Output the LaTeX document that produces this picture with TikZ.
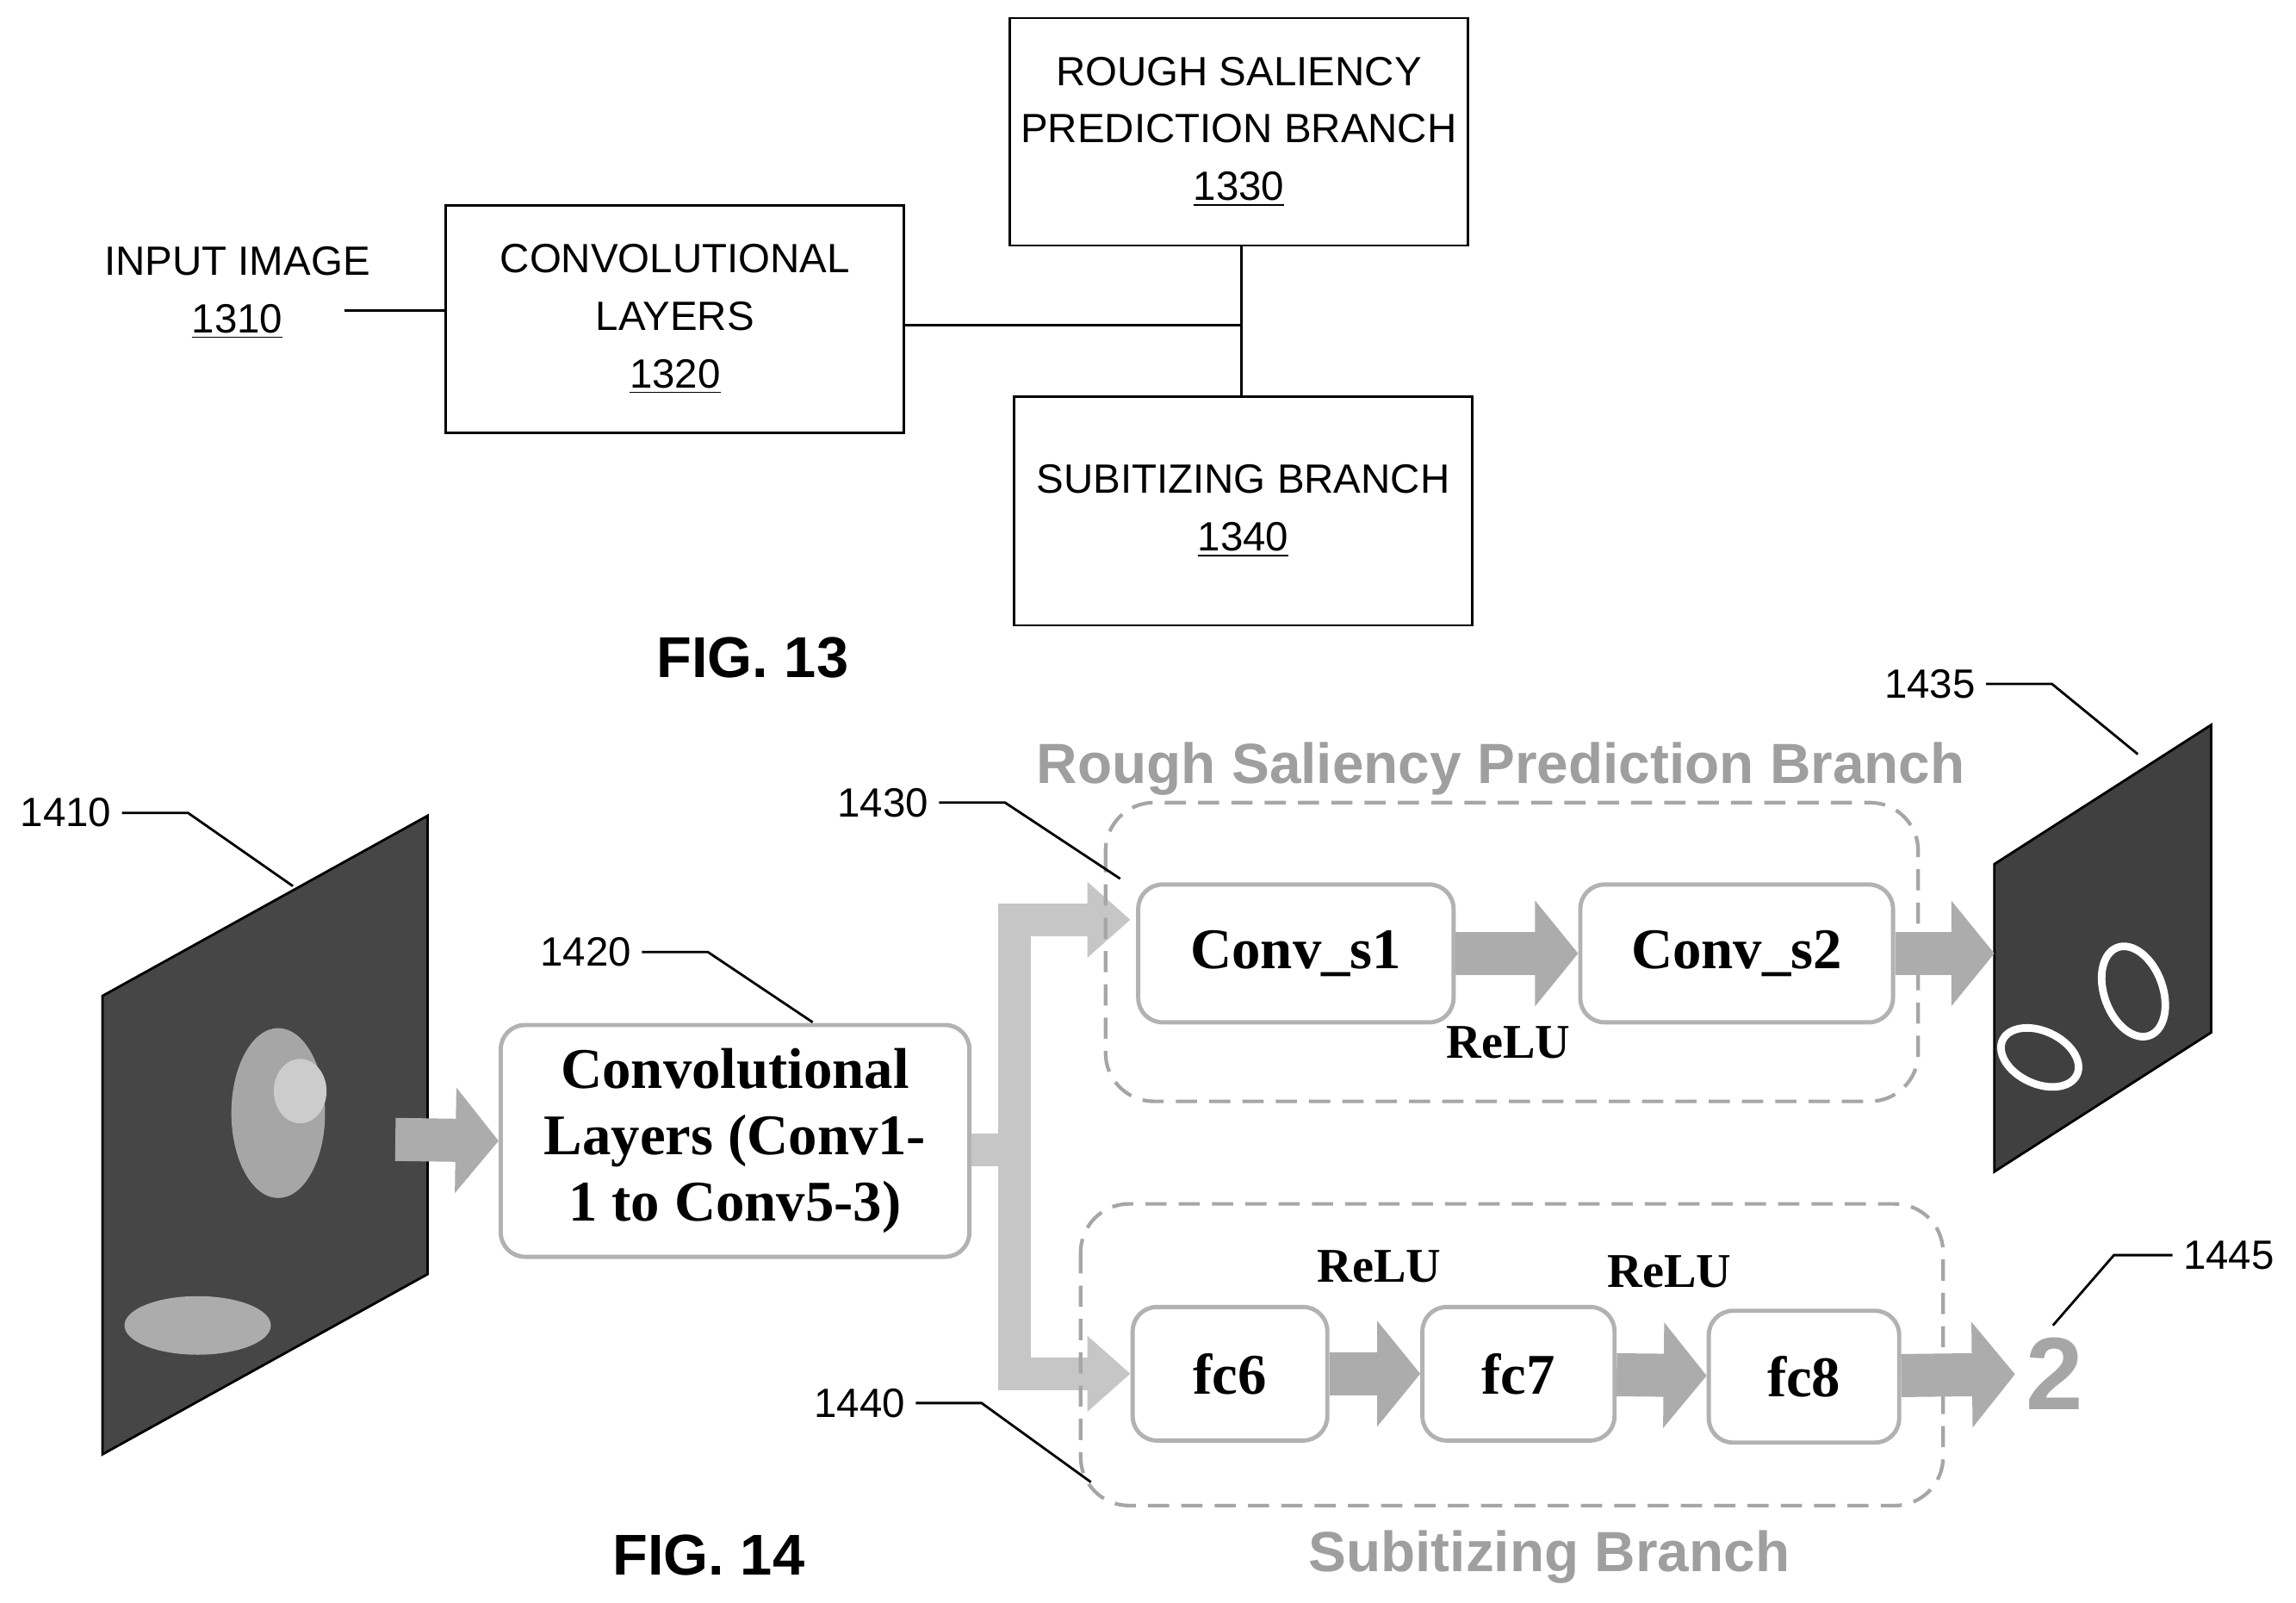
\documentclass[tikz,border=0pt]{standalone}
\usepackage{fontspec}
\setmainfont{Liberation Serif}
\setsansfont{Liberation Sans}
\usetikzlibrary{arrows.meta, positioning}
\tikzset{
    plain/.style={
        rectangle,
        draw=black,
        thick,
        minimum width=5.32cm,
        minimum height=2.64cm,
        align=center,
        font=\sffamily\fontsize{13.5}{19}\selectfont
    },
    stage/.style={
        rectangle,
        draw=gray!60,
        line width=1.4pt,
        rounded corners=8pt,
        fill=white,
        align=center,
        font=\bfseries\fontsize{19}{22}\selectfont
    },
    branch/.style={
        draw=gray!70,
        line width=1.2pt,
        dash pattern=on 7pt off 4pt,
        rounded corners=16pt
    },
    fat/.style={
        line width=0.5cm,
        gray!65,
        -{Triangle[length=0.5cm,width=1.2cm]}
    },
    band/.style={
        line width=0.38cm,
        gray!45
    },
    tag/.style={font=\sffamily\fontsize{13.5}{16}\selectfont},
    lead/.style={thick},
    caption/.style={font=\sffamily\bfseries\fontsize{19}{22}\selectfont},
    title/.style={font=\sffamily\bfseries\fontsize{18.7}{20}\selectfont, text=gray!75}
}
\begin{document}
\begin{tikzpicture}[x=0.017cm, y=-0.017cm]
\useasboundingbox (0,0) rectangle (1568,1094);

% FIG. 13
\node[align=center, font=\sffamily\fontsize{13.5}{19}\selectfont] (img13) at (162,200) {INPUT IMAGE\\\underline{1310}};
\node[plain] (conv13) at (461,218) {CONVOLUTIONAL\\LAYERS\\\underline{1320}};
\node[plain] (rough13) at (846,90) {ROUGH SALIENCY\\PREDICTION BRANCH\\\underline{1330}};
\node[plain, minimum height=2.65cm] (sub13) at (849,349) {SUBITIZING BRANCH\\\underline{1340}};
\coordinate (join) at (848,222);
\draw[thick] (235,212) -- (conv13.west |- 0,212);
\draw[thick] (conv13.east |- join) -- (join);
\draw[thick] (rough13.south -| join) -- (sub13.north -| join);
\node[caption] (fig13) at (514,449) {FIG. 13};

% FIG. 14 -- input image
\fill[gray!55!black] (70,680) -- (292,557) -- (292,870) -- (70,993) -- cycle;
\fill[gray!70] (190,760) ellipse (32 and 58);
\fill[gray!40] (205,745) ellipse (18 and 22);
\fill[gray!65] (135,905) ellipse (50 and 20);
\draw[thick] (70,680) -- (292,557) -- (292,870) -- (70,993) -- cycle;
\coordinate (in) at (270,778);
\node[tag] (t1410) at (45,555) {1410};
\draw[lead] (t1410.east) -- ++(45,0) -- (200,605);

\node[stage, minimum width=5.44cm, minimum height=2.69cm] (conv) at (502,779) {Convolutional\\Layers (Conv1-\\1 to Conv5-3)};
\draw[fat] (in) -- (conv.west);
\node[tag] (t1420) at (400,650) {1420};
\draw[lead] (t1420.east) -- ++(45,0) -- (555,698);

% fork
\coordinate (fork) at (693,785);
\draw[band] (conv.east |- fork) -- (fork);
\draw[band] (693,617) -- (693,949);
\draw[band, -{Triangle[length=0.5cm,width=0.85cm]}] (682,628) -- (772,628);
\draw[band, -{Triangle[length=0.5cm,width=0.85cm]}] (682,938) -- (772,938);

% rough saliency branch
\draw[branch] (755,548) rectangle (1310,752);
\node[title] (ttl1) at (1025,525) {Rough Saliency Prediction Branch};
\node[stage, minimum width=3.66cm, minimum height=1.6cm] (s1) at (885,651) {Conv\_s1};
\node[stage, minimum width=3.63cm, minimum height=1.6cm] (s2) at (1186,651) {Conv\_s2};
\draw[fat] (s1) -- (s2);
\node[font=\bfseries\fontsize{16}{18}\selectfont] (r1) at (1030,712) {ReLU};
\node[tag] (t1430) at (603,548) {1430};
\draw[lead] (t1430.east) -- ++(45,0) -- (765,600);

% saliency map
\fill[gray!50!black] (1362,590) -- (1510,495) -- (1510,705) -- (1362,800) -- cycle;
\draw[white, line width=2.5pt, rotate around={-25:(1393,722)}] (1393,722) ellipse (28 and 18);
\draw[white, line width=2.5pt, rotate around={-70:(1457,677)}] (1457,677) ellipse (32 and 20);
\draw[thick] (1362,590) -- (1510,495) -- (1510,705) -- (1362,800) -- cycle;
\coordinate (sal) at (1362,651);
\draw[fat] (s2) -- (sal);
\node[tag] (t1435) at (1318,467) {1435};
\draw[lead] (t1435.east) -- ++(45,0) -- (1460,515);

% subitizing branch
\draw[branch] (738,822) rectangle (1327,1028);
\node[title] (ttl2) at (1058,1063) {Subitizing Branch};
\node[stage, minimum width=2.26cm, minimum height=1.55cm] (fc6) at (840,938) {fc6};
\node[stage, minimum width=2.23cm, minimum height=1.55cm] (fc7) at (1037,938) {fc7};
\node[stage, minimum width=2.21cm, minimum height=1.53cm] (fc8) at (1232,940) {fc8};
\draw[fat] (fc6) -- (fc7);
\draw[fat] (fc7) -- (fc8);
\node[font=\bfseries\fontsize{16}{18}\selectfont] (r2) at (942,865) {ReLU};
\node[font=\bfseries\fontsize{16}{18}\selectfont] (r3) at (1140,868) {ReLU};
\node[font=\sffamily\fontsize{34}{36}\selectfont, text=gray!70, draw=none] (cnt) at (1403,938) {\textbf{2}};
\draw[fat] (fc8) -- (cnt);
\node[tag] (t1445) at (1522,857) {1445};
\draw[lead] (t1445.west) -- ++(-40,0) -- (1402,905);
\node[tag] (t1440) at (587,958) {1440};
\draw[lead] (t1440.east) -- ++(45,0) -- (745,1012);

\node[caption] (fig14) at (484,1062) {FIG. 14};
\end{tikzpicture}
\end{document}
